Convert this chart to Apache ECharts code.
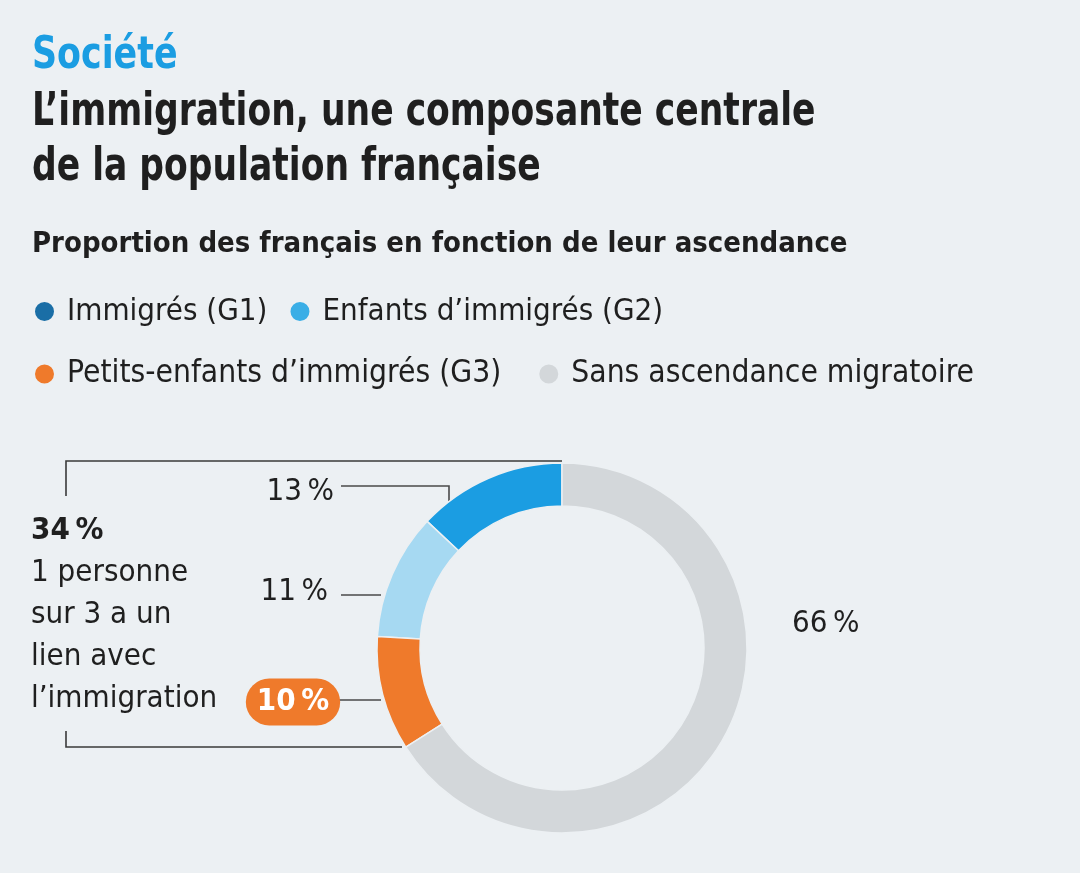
<!DOCTYPE html>
<html><head><meta charset="utf-8">
<script src="https://cdn.jsdelivr.net/npm/echarts@6/dist/echarts.min.js"></script>
<style>html,body{margin:0;padding:0;background:#ecf0f3;}#c{width:1080px;height:873px;}</style>
</head><body><div id="c"></div>
<script>
const categories = ['Immigrés (G1)', 'Enfants d’immigrés (G2)', 'Petits-enfants d’immigrés (G3)', 'Sans ascendance migratoire'];
const values = [13, 11, 10, 66];
const sliceColors = ['#1b9de2', '#a6d9f2', '#ef7a2b', '#d3d7da'];
const legendColors = ['#1a6ea6', '#3aaee6', '#ef7a2b', '#d3d7da'];
const FONT = '"Liberation Sans Narrow", "DejaVu Sans Condensed", Roboto, sans-serif';
const TXT = '#1f1f1f';

const chart = echarts.init(document.getElementById('c'));

const labelPos = [
  {x: 334, y: 492, align: 'right', line: [[449, 501], [449, 486], [341, 486]]},
  {x: 328, y: 592, align: 'right', line: [[381, 595], [341, 595]]},
  {x: 293, y: 702, align: 'center', line: [[381, 700], [338, 700]]},
  {x: 792, y: 624, align: 'left', line: null}
];

function titleText(text, x, y, size, color, sx) {
  return {type: 'text', x: x, y: y, scaleX: sx, silent: true,
    style: {text: text, fontFamily: FONT, fontSize: size, fontWeight: 'bold', fill: color, verticalAlign: 'middle', align: 'left'}};
}

chart.setOption({
  backgroundColor: '#ecf0f3',
  legend: [
    {left: 28, top: 291, icon: 'circle', itemWidth: 21, itemHeight: 21, itemGap: 21,
      textStyle: {fontFamily: FONT, fontSize: 31, color: TXT, padding: [0, 0, 0, 7]},
      data: [0, 1].map(i => ({name: categories[i], itemStyle: {color: legendColors[i]}})), selectedMode: false},
    {left: 28, top: 353, icon: 'circle', itemWidth: 21, itemHeight: 21, itemGap: 36,
      textStyle: {fontFamily: FONT, fontSize: 31.5, color: TXT, padding: [0, 0, 0, 7]},
      data: [2, 3].map(i => ({name: categories[i], itemStyle: {color: legendColors[i]}})), selectedMode: false}
  ],
  graphic: [
    titleText('Société', 32, 56.5, 44, '#1b9de2', 0.88),
    titleText('L’immigration, une composante centrale', 32, 113, 46, TXT, 0.835),
    titleText('de la population française', 32, 168, 46, TXT, 0.835),
    titleText('Proportion des français en fonction de leur ascendance', 32, 244, 29, TXT, 1.0),
    {type: 'polyline', shape: {points: [[66, 496], [66, 461], [562, 461]]}, style: {stroke: '#3a3a3a', lineWidth: 1.6, fill: null}},
    {type: 'polyline', shape: {points: [[66, 731], [66, 747], [402, 747]]}, style: {stroke: '#3a3a3a', lineWidth: 1.6, fill: null}},
    {type: 'text', left: 31, top: 510, style: {
      text: '{b|34\u202F%}\n1 personne\nsur 3 a un\nlien avec\nl’immigration',
      fontFamily: FONT, fontSize: 31, fill: TXT, lineHeight: 42,
      rich: {b: {fontFamily: FONT, fontSize: 31, fontWeight: 'bold', fill: TXT, lineHeight: 42}}
    }}
  ],
  series: [{
    type: 'pie',
    center: [562, 648],
    radius: [142, 185],
    startAngle: 90,
    clockwise: false,
    silent: true,
    animation: false,
    itemStyle: {borderColor: '#ecf0f3', borderWidth: 1.5},
    label: {
      show: true,
      formatter: p => p.value + '\u202F%',
      fontFamily: FONT, fontSize: 31, color: TXT
    },
    labelLine: {show: true, lineStyle: {color: '#4a4a4a', width: 1.6}},
    labelLayout: p => {
      const l = labelPos[p.dataIndex];
      const r = {x: l.x, y: l.y, align: l.align, verticalAlign: 'middle'};
      if (l.line) r.labelLinePoints = l.line;
      return r;
    },
    data: values.map((v, i) => {
      const d = {name: categories[i], value: v, itemStyle: {color: sliceColors[i]}};
      if (i === 2) d.label = {color: '#fff', fontWeight: 'bold', backgroundColor: '#ef7a2b', borderRadius: 26, padding: [9, 11, 7, 11]};
      if (i === 3) d.labelLine = {show: false};
      return d;
    })
  }]
});
</script></body></html>
